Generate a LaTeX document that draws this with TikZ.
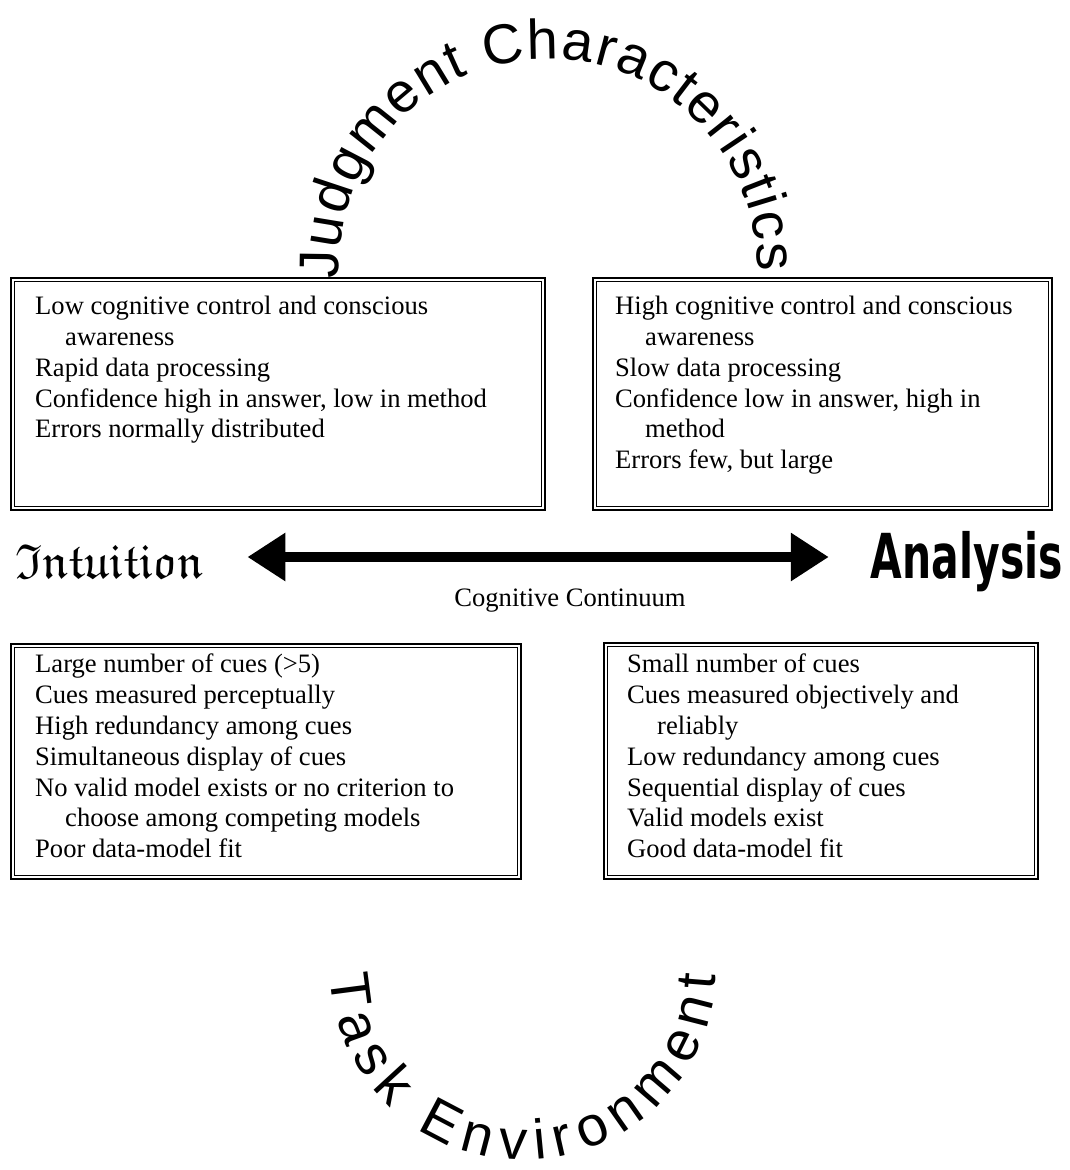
\documentclass[tikz,border=0pt]{standalone}
\usepackage{amssymb}
\usepackage{fontspec}
\setmainfont{Liberation Serif}
\newfontfamily\arcfont{Liberation Sans}
\newfontfamily\impactfont[FakeStretch=0.66]{DejaVu Sans}
\usetikzlibrary{arrows.meta,decorations.text,positioning}

\tikzset{
  dblbox/.style={draw, line width=2.4pt, inner sep=0pt, anchor=north west},
  innerline/.style={line width=1pt},
  boxtext/.style={anchor=north west, align=left, inner sep=0pt,
    font=\fontsize{26.6pt}{30.8pt}\selectfont},
  endlabel/.style={inner sep=0pt, text height=50pt, text depth=8pt},
  dblarrow/.style={line width=10pt,
    {Triangle[length=38pt,width=46pt]}-{Triangle[length=38pt,width=46pt]}}
}

\begin{document}
\begin{tikzpicture}[x=1pt,y=1pt]
\useasboundingbox (0,0) rectangle (1070,-1170);

% curved titles
\path[decorate, decoration={text along path, text align={fit to path},
  text={|\arcfont\fontsize{56pt}{56pt}\selectfont|Judgment Characteristics}}]
  ([shift={(183:209)}]548,-268) arc[start angle=183, end angle=-1, radius=209];
\path[decorate, decoration={text along path, text align={fit to path},
  text={|\arcfont\fontsize{56pt}{56pt}\selectfont|Task Environment}}]
  ([shift={(182.4:193)}]523,-967) arc[start angle=182.4, end angle=357.6, radius=193];

% the four boxes
\node[dblbox, minimum width=534pt, minimum height=232pt] (jl) at (10,-277) {};
\node[dblbox, minimum width=459pt, minimum height=232pt] (jr) at (592,-277) {};
\node[dblbox, minimum width=510pt, minimum height=235pt] (tl) at (10,-643) {};
\node[dblbox, minimum width=434pt, minimum height=236pt] (tr) at (603,-642) {};
\foreach \b in {jl,jr,tl,tr}
  \draw[innerline] ([shift={(4.5,-4.5)}]\b.north west) rectangle ([shift={(-4.5,4.5)}]\b.south east);

\node[boxtext] (jltext) at ([shift={(25,-19)}]jl.north west)
  {Low cognitive control and conscious\\\hspace*{30pt}awareness\\Rapid data processing\\
   Confidence high in answer, low in method\\Errors normally distributed};
\node[boxtext] (jrtext) at ([shift={(23,-19)}]jr.north west)
  {High cognitive control and conscious\\\hspace*{30pt}awareness\\Slow data processing\\
   Confidence low in answer, high in\\\hspace*{30pt}method\\Errors few, but large};
\node[boxtext] (tltext) at ([shift={(25,-11)}]tl.north west)
  {Large number of cues (>5)\\Cues measured perceptually\\High redundancy among cues\\
   Simultaneous display of cues\\No valid model exists or no criterion to\\
   \hspace*{30pt}choose among competing models\\Poor data-model fit};
\node[boxtext] (trtext) at ([shift={(24,-12)}]tr.north west)
  {Small number of cues\\Cues measured objectively and\\\hspace*{30pt}reliably\\
   Low redundancy among cues\\Sequential display of cues\\Valid models exist\\
   Good data-model fit};

% continuum
\node[endlabel, anchor=west, font=\fontsize{49pt}{49pt}\selectfont] (intuition) at (15,-557) {$\mathfrak{Intuition}$};
\node[endlabel, anchor=east, font=\impactfont\bfseries\fontsize{62pt}{62pt}\selectfont] (analysis) at (1063,-557) {Analysis};
\draw[dblarrow, shorten <=44pt, shorten >=42pt] (intuition) -- (analysis);
\node[anchor=base, font=\fontsize{26.6pt}{30.8pt}\selectfont] (continuum) at (570,-606) {Cognitive Continuum};
\end{tikzpicture}
\end{document}
